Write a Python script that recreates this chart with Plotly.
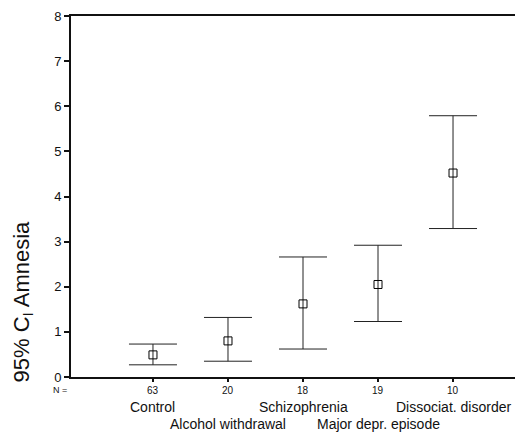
import plotly.graph_objects as go

categories = ["Control", "Alcohol withdrawal", "Schizophrenia", "Major depr. episode", "Dissociat. disorder"]
n_values = ["63", "20", "18", "19", "10"]
means = [0.49, 0.80, 1.62, 2.05, 4.52]
upper = [0.73, 1.32, 2.66, 2.92, 5.79]
lower = [0.27, 0.35, 0.62, 1.23, 3.29]
y_ticks = [0, 1, 2, 3, 4, 5, 6, 7, 8]

xpos = list(range(1, len(categories) + 1))
err_plus = [u - m for u, m in zip(upper, means)]
err_minus = [m - l for m, l in zip(means, lower)]

fig = go.Figure()
fig.add_trace(go.Scatter(
    x=xpos, y=means, mode="markers",
    marker=dict(symbol="square-open", size=8, color="black", line=dict(width=1)),
    error_y=dict(type="data", symmetric=False, array=err_plus, arrayminus=err_minus,
                 color="#222", thickness=1, width=24),
    showlegend=False,
))

font = "Liberation Sans, Arial, sans-serif"
annotations = [dict(x=0, y=0, xref="paper", yref="paper", xshift=-11, yshift=-13,
                    text="N =", showarrow=False, xanchor="center", yanchor="middle",
                    font=dict(family=font, size=9, color="#111"))]
for xp, n in zip(xpos, n_values):
    annotations.append(dict(x=xp, y=0, xref="x", yref="paper", yshift=-13, text=n, showarrow=False,
                            xanchor="center", yanchor="middle",
                            font=dict(family=font, size=10, color="#111")))
for i, (xp, c) in enumerate(zip(xpos, categories)):
    shift = -30 if i % 2 == 0 else -47
    annotations.append(dict(x=xp, y=0, xref="x", yref="paper", yshift=shift, text=c, showarrow=False,
                            xanchor="center", yanchor="middle",
                            font=dict(family=font, size=14, color="#111")))
annotations.append(dict(x=0, y=0.5, xref="paper", yref="paper", xshift=-49, yshift=-105,
                        xanchor="center", yanchor="middle",
                        text="95% C<sub>I</sub> Amnesia", textangle=-90, showarrow=False,
                        font=dict(family=font, size=22, color="#111")))

fig.update_layout(
    width=515, height=427,
    margin=dict(l=63, r=0, t=8, b=58),
    paper_bgcolor="white", plot_bgcolor="white",
    annotations=annotations,
    xaxis=dict(range=[-0.093, 5.933], tickvals=xpos, ticktext=[""] * len(xpos),
               ticks="outside", ticklen=3, tickwidth=2, tickcolor="#111",
               showline=True, linecolor="#111", linewidth=2, mirror=True,
               showgrid=False, zeroline=False),
    yaxis=dict(range=[0, 8], tickvals=y_ticks, ticks="outside", ticklen=5, tickwidth=2, tickcolor="#111",
               showline=True, linecolor="#111", linewidth=2, showgrid=False, zeroline=False,
               tickfont=dict(family=font, size=13, color="#111")),
)

fig.write_html("out.html")
